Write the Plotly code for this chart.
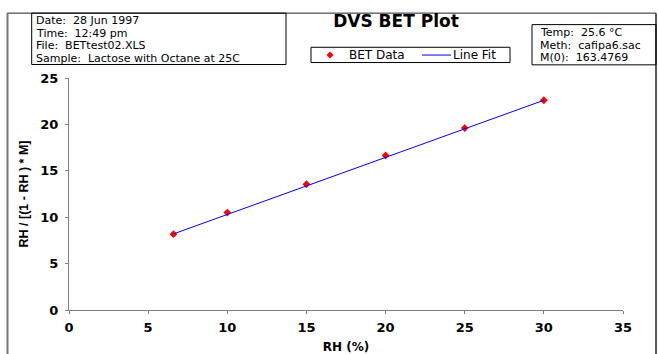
import plotly.graph_objects as go

# ---- data ----
rh_data = [6.6, 10, 15, 20, 25, 30]
bet_data = [8.17, 10.5, 13.55, 16.65, 19.6, 22.6]
fit_x = [6.6, 30]
fit_y = [8.2, 22.6]
x_ticks = [0, 5, 10, 15, 20, 25, 30, 35]
y_ticks = [0, 5, 10, 15, 20, 25]
info_left = ["Date:  28 Jun 1997", "Time:  12:49 pm", "File:  BETtest02.XLS",
             "Sample:  Lactose with Octane at 25C"]
info_right = ["Temp:  25.6 °C", "Meth:  cafipa6.sac", "M(0):  163.4769"]
series_names = ["BET Data", "Line Fit"]

W, H = 658, 354
L, R, T, B = 69, 623, 77.5, 310


def px(x):
    return (x - L) / (R - L)


def py(y):
    return (B - y) / (B - T)


fig = go.Figure()
fig.add_trace(go.Scatter(
    x=rh_data, y=bet_data, mode="markers", name=series_names[0],
    marker=dict(symbol="diamond", size=6, color="#ff0000")))
fig.add_trace(go.Scatter(
    x=fit_x, y=fit_y, mode="lines", name=series_names[1],
    line=dict(color="#0000ff", width=1)))

txt_font = dict(family="DejaVu Sans", size=11, color="black")

shapes = []
# outer frame
shapes.append(dict(type="line", xref="paper", yref="paper", x0=px(7), x1=px(656), y0=py(12.5), y1=py(12.5),
                   line=dict(color="#222", width=1)))
shapes.append(dict(type="line", xref="paper", yref="paper", x0=px(7.5), x1=px(7.5), y0=py(12.5), y1=py(360),
                   line=dict(color="#777", width=2)))
shapes.append(dict(type="line", xref="paper", yref="paper", x0=px(656), x1=px(656), y0=py(12.5), y1=py(360),
                   line=dict(color="#222", width=1.5)))
# info boxes
shapes.append(dict(type="rect", xref="paper", yref="paper", x0=px(31.7), x1=px(286), y0=py(12.5), y1=py(64),
                   line=dict(color="black", width=1)))
shapes.append(dict(type="rect", xref="paper", yref="paper", x0=px(532), x1=px(656), y0=py(24), y1=py(64.3),
                   line=dict(color="black", width=1)))
# legend box
LY = 54.5
shapes.append(dict(type="rect", xref="paper", yref="paper", x0=px(311), x1=px(510), y0=py(46.7), y1=py(62),
                   line=dict(color="black", width=1), fillcolor="white"))
d = 3.5
shapes.append(dict(type="path", xref="paper", yref="paper",
                   path=f"M {px(330 - d)} {py(LY)} L {px(330)} {py(LY - d)} L {px(330 + d)} {py(LY)} "
                        f"L {px(330)} {py(LY + d)} Z",
                   fillcolor="#ff0000", line=dict(color="#ff0000", width=0)))
shapes.append(dict(type="line", xref="paper", yref="paper", x0=px(422), x1=px(451), y0=py(LY), y1=py(LY),
                   line=dict(color="#0000ff", width=1)))

annotations = []
for t, yy in zip(info_left, [19, 32, 44.5, 57.5]):
    annotations.append(dict(text=t, xref="paper", yref="paper", x=px(34), y=py(yy), xanchor="left",
                            yanchor="middle", showarrow=False, font=txt_font, height=12))
for t, yy in zip(info_right, [31.5, 44, 56.5]):
    annotations.append(dict(text=t, xref="paper", yref="paper", x=px(538), y=py(yy), xanchor="left",
                            yanchor="middle", showarrow=False, font=txt_font, height=12))
annotations.append(dict(text=series_names[0], xref="paper", yref="paper", x=px(347), y=py(LY),
                        xanchor="left", yanchor="middle", showarrow=False,
                        font=dict(family="DejaVu Sans", size=12, color="black")))
annotations.append(dict(text=series_names[1], xref="paper", yref="paper", x=px(451), y=py(LY),
                        xanchor="left", yanchor="middle", showarrow=False,
                        font=dict(family="DejaVu Sans", size=12, color="black")))

tick_font = dict(family="DejaVu Sans", size=13, color="black", weight="bold")

fig.update_layout(
    width=W, height=H,
    margin=dict(l=L, r=W - R, t=T, b=H - B),
    paper_bgcolor="white", plot_bgcolor="white",
    title=dict(text="<b>DVS BET Plot</b>", x=396 / W, y=1 - 21.5 / H, xanchor="center", yanchor="middle",
               font=dict(family="DejaVu Sans", size=17, color="black")),
    showlegend=False,
    xaxis=dict(range=[0, 35], tickvals=x_ticks, ticks="outside", ticklen=3, tickcolor="#808080",
               showline=True, linecolor="#808080", linewidth=1, showgrid=False, zeroline=False,
               tickfont=tick_font, automargin=False, ticklabelstandoff=2,
               title=dict(text="RH (%)", standoff=17,
                          font=dict(family="DejaVu Sans", size=12, color="black", weight="bold"))),
    yaxis=dict(range=[0, 25], tickvals=y_ticks, ticks="outside", ticklen=3, tickcolor="#808080",
               showline=True, linecolor="#808080", linewidth=1, showgrid=False, zeroline=False,
               tickfont=tick_font, automargin=False, ticklabelstandoff=4,
               title=dict(text="RH / [(1 - RH ) * M]", standoff=8,
                          font=dict(family="Liberation Sans", size=12.5, color="black", weight="bold"))),
    shapes=shapes, annotations=annotations,
)

fig.write_html("out.html", config={"displayModeBar": False},
               post_script="document.body.style.margin='0';")
